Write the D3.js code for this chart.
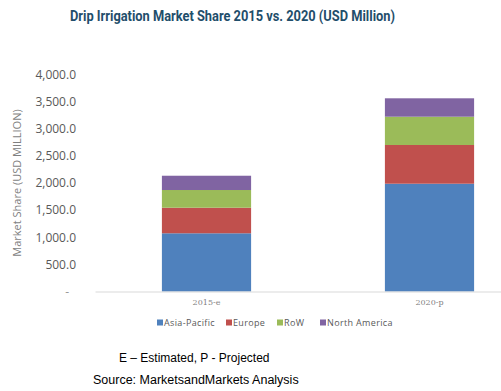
<!DOCTYPE html>
<html>
<head>
<meta charset="utf-8">
<script src="https://cdn.jsdelivr.net/npm/d3@7"></script>
<style>
  body { margin: 0; background: #fff; }
  svg { display: block; }
</style>
</head>
<body>
<div id="chart"></div>
<script>
// Data (USD million)
const years = ["2015-e", "2020-p"];
const regions = ["Asia-Pacific", "Europe", "RoW", "North America"];
const asiaPacific = [1072, 1985];
const europe = [471, 713];
const row = [326, 521];
const northAmerica = [263, 339];
const yTicks = [0, 500, 1000, 1500, 2000, 2500, 3000, 3500, 4000];
const colors = ["#4F81BD", "#C0504D", "#9BBB59", "#8064A2"];

const width = 501, height = 391;
const svg = d3.select("#chart")
    .append("svg")
    .attr("width", width)
    .attr("height", height)
    .style("background", "#fff");

// title (condensed look)
svg.append("text")
    .attr("x", 70)
    .attr("y", 21)
    .attr("textLength", 325)
    .attr("lengthAdjust", "spacingAndGlyphs")
    .style("font-family", "'Liberation Sans Narrow', 'Roboto', Arial, sans-serif")
    .style("font-weight", "bold")
    .style("font-size", "14px")
    .style("fill", "#1F4E6B")
    .text("Drip Irrigation Market Share 2015 vs. 2020 (USD Million)");

// table for the stack
const table = years.map((y, i) => ({
    year: y,
    "Asia-Pacific": asiaPacific[i],
    "Europe": europe[i],
    "RoW": row[i],
    "North America": northAmerica[i]
}));
const series = d3.stack().keys(regions)(table);

const x = d3.scaleBand()
    .domain(years)
    .range([95, 541])
    .paddingInner(0.6)
    .paddingOuter(0.3);

const y = d3.scaleLinear()
    .domain([0, 4000])
    .range([291.5, 74.3]);

const color = d3.scaleOrdinal().domain(regions).range(colors);

// y axis labels (no line)
const yAxis = d3.axisLeft(y)
    .tickValues(yTicks)
    .tickSize(0)
    .tickPadding(0)
    .tickFormat(d => d === 0 ? "-" : d3.format(",.1f")(d));

const yg = svg.append("g")
    .attr("transform", "translate(76,0)")
    .call(yAxis);
yg.select(".domain").remove();
yg.selectAll("text")
    .style("font-family", "'Open Sans', 'Liberation Sans', sans-serif")
    .style("font-size", "12px")
    .style("fill", "#595959");
yg.selectAll("text").filter(d => d === 0)
    .attr("x", -7)
    .style("fill", "#999");

// y axis title
svg.append("text")
    .attr("transform", "translate(21,183) rotate(-90)")
    .attr("text-anchor", "middle")
    .style("font-family", "'Open Sans', 'Liberation Sans', sans-serif")
    .style("font-size", "11px")
    .style("fill", "#7f7f7f")
    .text("Market Share (USD MILLION)");

// bars
svg.append("g")
    .selectAll("g")
    .data(series)
    .join("g")
    .attr("fill", d => color(d.key))
    .selectAll("rect")
    .data(d => d)
    .join("rect")
    .attr("x", d => x(d.data.year))
    .attr("y", d => y(d[1]))
    .attr("width", x.bandwidth())
    .attr("height", d => y(d[0]) - y(d[1]));

// x axis
const xAxis = d3.axisBottom(x).tickSize(0).tickPadding(8);
const xg = svg.append("g")
    .attr("transform", `translate(0,${y(0)})`)
    .call(xAxis);
xg.select(".domain")
    .attr("stroke", "#d9d9d9")
    .attr("stroke-width", 1);
xg.selectAll("text")
    .style("font-family", "'DejaVu Serif', serif")
    .style("font-size", "8px")
    .style("fill", "#7f7f7f");

// legend
const legendX = [157, 226, 277, 320];
const legend = svg.append("g")
    .selectAll("g")
    .data(regions)
    .join("g")
    .attr("transform", (d, i) => `translate(${legendX[i]},323)`);
legend.append("rect")
    .attr("x", 0)
    .attr("y", -3.5)
    .attr("width", 6)
    .attr("height", 6)
    .attr("fill", d => color(d));
legend.append("text")
    .attr("x", 7)
    .attr("y", 3)
    .style("font-family", "'Open Sans', 'Liberation Sans', sans-serif")
    .style("font-size", "9px")
    .style("letter-spacing", "0.35px")
    .style("fill", "#595959")
    .text(d => d);

// footnotes
svg.append("text")
    .attr("x", 119)
    .attr("y", 362)
    .style("font-family", "'Liberation Sans', Arial, sans-serif")
    .style("font-size", "12px")
    .style("fill", "#000")
    .text("E \u2013 Estimated, P - Projected");
svg.append("text")
    .attr("x", 93)
    .attr("y", 384)
    .style("font-family", "'Liberation Sans', Arial, sans-serif")
    .style("font-size", "12.5px")
    .style("fill", "#000")
    .text("Source: MarketsandMarkets Analysis");
</script>
</body>
</html>
